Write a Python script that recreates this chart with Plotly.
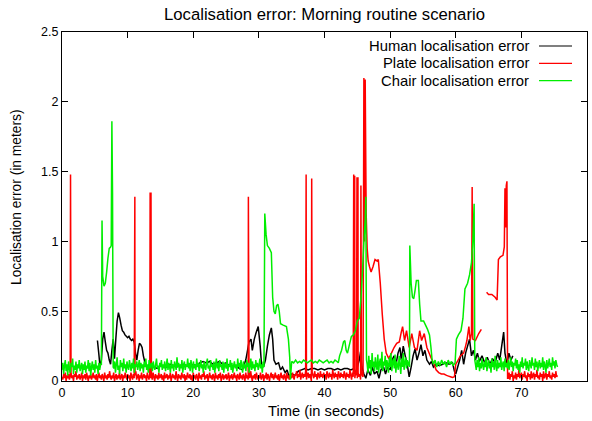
import plotly.graph_objects as go

# ---------------- data ----------------
SAMPLE_DT = 0.125  # sample period of the noisy baseline segments (s)
CM = 0.01          # noisy baseline values are listed in centimetres

# Human localisation error (explicit samples, metres)
human_t = [5.4, 5.6, 5.8, 6.0, 6.2, 6.4, 6.6, 6.8, 7.0, 7.2, 7.4, 7.6, 7.8, 8.0, 8.2, 8.4, 8.6, 8.8, 9.0, 9.2,
           9.4, 9.6, 9.8, 10.0, 10.2, 10.4, 10.6, 10.8, 11.0, 11.2, 11.4, 11.6, 11.8, 12.0, 12.2, 12.4, 12.6, 12.8, 13.0,
           13.5, 14.0, 14.5, 15.0, 15.5, 16.0, 16.5, 17.0, 17.5, 18.0, 18.5, 19.0, 19.5, 20.0, 20.5, 21.0, 21.5,
           22.0, 22.5, 23.0, 23.5, 24.0, 24.5, 25.0, 25.5, 26.0, 26.5, 27.0, 27.5,
           28.0, 28.2, 28.5, 28.8, 29.0, 29.3, 29.6, 29.9, 30.2, 30.4, 30.7, 31.0, 31.3, 31.6, 31.9, 32.1, 32.3, 32.6,
           33.0, 33.3, 33.6, 34.0, 34.3, 34.6, 35.0, 35.5, 36.0, 36.5,
           37.0, 37.5, 38.0, 38.5, 39.0, 39.5, 40.0, 40.5, 41.0, 41.5, 42.0, 42.5, 43.0, 43.5, 44.0, 44.5,
           44.8, 45.0, 45.3, 45.5, 45.7, 46.0, 46.3, 46.6, 47.0, 47.3, 47.6, 48.0, 48.3, 48.6, 49.0, 49.3, 49.6,
           50.0, 50.3, 50.6, 50.9, 51.2, 51.5, 51.7, 52.0, 52.3, 52.6, 52.9, 53.2, 53.5, 53.8, 54.1, 54.4, 54.7,
           55.0, 55.3, 55.6, 56.0, 56.3, 56.6, 57.0, 57.5, 58.0, 58.5, 59.0, 59.5, 59.8, 60.0, 60.3, 60.6, 60.9,
           61.2, 61.5, 61.8, 62.1, 62.4, 62.7, 63.0, 63.3, 63.6, 64.0, 64.4, 64.8, 65.2, 65.6, 66.0, 66.4, 66.7,
           67.0, 67.3, 67.5, 67.8, 68.1, 68.4, 68.7]
human_v = [0.29, 0.20, 0.10, 0.15, 0.30, 0.35, 0.28, 0.22, 0.20, 0.15, 0.12, 0.22, 0.30, 0.16, 0.30, 0.43, 0.49, 0.45, 0.40, 0.36,
           0.35, 0.33, 0.32, 0.31, 0.32, 0.30, 0.29, 0.30, 0.28, 0.20, 0.15, 0.22, 0.27, 0.26, 0.24, 0.18, 0.14, 0.12, 0.10,
           0.11, 0.10, 0.09, 0.11, 0.10, 0.10, 0.12, 0.11, 0.10, 0.11, 0.12, 0.11, 0.10, 0.12, 0.11, 0.13,
           0.14, 0.13, 0.14, 0.12, 0.13, 0.14, 0.12, 0.13, 0.11, 0.10, 0.11, 0.09, 0.08,
           0.15, 0.20, 0.28, 0.30, 0.22, 0.30, 0.35, 0.39, 0.25, 0.12, 0.10, 0.15, 0.25, 0.33, 0.38, 0.30, 0.15, 0.12,
           0.13, 0.08, 0.10, 0.06, 0.08, 0.03, 0.05, 0.04, 0.07, 0.08,
           0.09, 0.08, 0.09, 0.09, 0.08, 0.09, 0.08, 0.09, 0.09, 0.08, 0.09, 0.08, 0.09, 0.09, 0.08, 0.09,
           0.05, 0.10, 0.15, 0.21, 0.10, 0.05, 0.02, 0.08, 0.04, 0.10, 0.05, 0.07, 0.02, 0.08, 0.10, 0.05, 0.10,
           0.08, 0.15, 0.18, 0.12, 0.20, 0.24, 0.15, 0.25, 0.18, 0.12, 0.03, 0.10, 0.18, 0.23, 0.15, 0.20, 0.26,
           0.18, 0.22, 0.15, 0.12, 0.14, 0.10, 0.12, 0.11, 0.12, 0.13, 0.12, 0.13, 0.07, 0.05, 0.10, 0.15, 0.22,
           0.12, 0.20, 0.25, 0.30, 0.18, 0.22, 0.15, 0.20, 0.14, 0.18, 0.13, 0.17, 0.12, 0.16, 0.13, 0.20, 0.15,
           0.25, 0.35, 0.20, 0.12, 0.20, 0.15, 0.18]

# Plate localisation error
plate_noise1_start = 0.0
plate_noise1_cm = [3, 1, 5, 2, 6, 0, 4, 2, 5, 1, 3, 6, 2, 4, 0, 5, 3, 7, 1, 4, 2, 5, 1, 3, 6, 0, 4, 2, 5, 1, 6, 3, 0, 4, 2, 5, 1, 3, 6, 2,
                   4, 1, 5, 0, 3, 6, 2, 4, 1, 5, 3, 0, 6, 2, 4, 1, 5, 2, 7, 3, 1, 4, 2, 6, 0, 3, 5, 1, 4, 2, 6, 1, 3, 5, 0, 4, 2, 6, 3, 1,
                   5, 2, 4, 0, 6, 3, 1, 5, 2, 4, 7, 1, 3, 5, 0, 4, 2, 6, 1, 3, 5, 2, 4, 0, 6, 3, 1, 5, 2, 4, 1, 6, 3, 0, 5, 2, 4, 1, 6, 2,
                   3, 5, 1, 4, 0, 6, 2, 3, 5, 1, 4, 2, 6, 0, 3, 5, 2, 4, 1, 7, 3, 0, 5, 2, 4, 1, 6, 3, 2, 5, 0, 4, 1, 6, 3, 2, 5, 1, 4, 0,
                   6, 2, 4, 1, 5, 3, 0, 6, 2, 4, 1, 5, 3, 7, 1, 4, 2, 5, 0, 3, 6, 2, 4, 1, 5, 3, 0, 6, 2, 4, 1, 5, 2, 6, 0, 3, 5, 1, 4, 2,
                   5, 1, 3, 6, 0, 4, 2, 5, 1, 3, 6, 2, 4, 0, 5, 3, 1, 6, 2, 4, 1, 5, 3, 0, 6, 2, 4, 1, 5, 2, 7, 3, 0, 4, 2, 5, 1, 6, 3, 1,
                   4, 2, 6, 1, 3, 5, 0, 4, 2, 6, 1, 5, 3, 0, 4, 6, 2, 5, 1, 3, 6, 2, 4, 1, 5, 0, 3, 6, 2, 4, 1, 5, 3, 0, 6, 2, 4, 1, 5, 3,
                   2, 6, 3, 1, 5, 4, 7, 2, 5, 3, 8, 1, 4, 6, 2, 5, 3, 7, 1, 4, 6, 2, 5, 3, 0, 6, 4, 2, 7, 3, 5, 1, 6, 4, 2, 7, 3, 5, 2, 6,
                   3, 5, 1, 7, 4, 2, 6, 3, 5, 1, 8, 4, 2, 6, 3, 5, 1, 7, 4, 2, 6, 3, 5, 2, 7, 4, 1, 6, 3, 5, 2, 8, 4, 1, 6, 3, 5, 2, 7, 4,
                   2, 6, 3, 5, 1, 7, 4, 3]
plate_spike_t = [1.3, 11.1, 13.43, 13.56, 28.4, 37.2, 38.05, 44.45, 44.6, 44.95, 45.1, 45.55]
plate_spike_v = [1.48, 1.32, 1.35, 1.35, 1.32, 1.48, 1.45, 1.48, 1.47, 1.46, 1.46, 1.40]
plate_mid_t = [46.0, 46.1, 46.2, 46.35, 46.5, 46.65, 46.85, 47.1, 47.4, 47.7, 48.0, 48.2, 48.5, 48.8, 49.1, 49.4,
               49.8, 50.2, 50.6, 51.0, 51.4, 51.7, 51.9, 52.2, 52.5, 52.9, 53.3, 53.7, 54.1, 54.5, 54.8, 55.2, 55.6,
               56.2, 56.7, 57.0, 57.4, 57.8, 58.2, 58.6, 58.9, 59.2, 59.5, 59.8, 60.0, 60.3, 60.7, 61.2, 61.5, 61.7,
               62.0, 62.2, 62.4, 62.5, 62.6, 63.0, 63.5, 63.9, 64.3, 64.7, 65.0, 65.5, 66.0, 66.3, 66.5, 66.8, 67.2,
               67.4, 67.5, 67.6, 67.7, 67.8, 67.9]
plate_mid_v = [2.17, 1.00, 2.16, 1.20, 0.95, 0.86, 0.82, 0.78, 0.82, 0.87, 0.86, 0.87, 0.70, 0.48, 0.30, 0.20,
               0.16, 0.20, 0.24, 0.27, 0.28, 0.35, 0.39, 0.29, 0.36, 0.24, 0.34, 0.24, 0.22, 0.36, 0.29, 0.34, 0.24,
               0.17, 0.12, 0.08, 0.06, 0.05, 0.05, 0.04, 0.035, 0.03, 0.025, 0.03, 0.12, 0.145, 0.18, 0.20, 0.25, 0.29,
               0.39, 0.29, 0.34, 1.39, 0.30, 0.29, 0.34, 0.37, None, 0.635, 0.62, 0.62, 0.60, 0.58, 0.87, 0.89, 0.90,
               0.96, 1.38, 1.10, 1.40, 1.43, 0.02]
plate_noise2_start = 68.0
plate_noise2_cm = [2, 6, 1, 5, 3, 7, 0, 4, 2, 6, 1, 5, 3, 8, 2, 4, 6, 1, 5, 3, 7, 2, 4, 0, 6, 3, 5, 1, 7, 2,
                   4, 6, 1, 5, 3, 8, 2, 4, 1, 6, 3, 5, 0, 7, 2, 4, 6, 1, 5, 3, 7, 2, 4, 1, 6, 3, 5, 2, 7, 3, 4]

# Chair localisation error
chair_noise1_start = 0.0
chair_noise1_cm = [8, 13, 5, 11, 15, 7, 12, 4, 14, 9, 6, 13, 10, 16, 5, 11, 8, 14, 6, 12, 9, 15, 7, 10,
                   13, 5, 12, 8, 14, 6, 11, 9, 15, 7, 13, 4, 10, 14, 8, 12, 6, 15, 9, 11, 5, 13, 8, 12]
chair_feat1_t = [6.0, 6.1, 6.2, 6.4, 6.6, 6.8, 7.0, 7.2, 7.4, 7.5, 7.6, 7.7, 7.8]
chair_feat1_v = [0.12, 1.15, 0.75, 0.68, 0.70, 0.78, 0.88, 0.95, 0.96, 0.97, 1.86, 1.35, 0.10]
chair_noise2_start = 7.9
chair_noise2_cm = [9, 14, 6, 12, 17, 8, 11, 5, 15, 10, 13, 7, 16, 9, 12, 6, 14, 10, 8, 15, 11, 7, 13, 9, 16, 6, 12, 10, 14, 8,
                   11, 15, 7, 13, 9, 12, 6, 14, 10, 16,
                   8, 12, 6, 15, 9, 11, 13, 7, 14, 10, 8, 12, 16, 9, 11, 6, 13, 10, 15, 8, 12, 9, 14, 7, 11, 16, 8, 13, 10, 6,
                   15, 9, 12, 7, 14, 11, 8, 17, 10, 13,
                   7, 12, 9, 15, 6, 11, 14, 8, 12, 10, 16, 9, 13, 7, 15, 11, 6, 14, 9, 12, 8, 16, 10, 13, 7, 11, 15, 9, 12, 6,
                   14, 10, 8, 13, 16, 9, 11, 7, 15, 10,
                   12, 8, 14, 6, 11, 16, 9, 13, 7, 15, 10, 12, 8, 14, 6, 13, 11, 9, 16, 7, 12, 10, 15, 8, 13, 6, 11, 14, 9, 12,
                   7, 16, 10, 13, 8, 15, 11, 6, 14, 9,
                   12, 7, 15, 10, 13, 6, 11, 16, 8, 14, 9, 12, 7, 15, 10, 13, 8, 11, 16, 9, 12, 6, 14, 10]
chair_feat2_t = [30.9, 31.1, 31.3, 31.6, 31.9, 32.1, 32.3, 32.5, 32.7, 32.9, 33.1, 33.3, 33.7, 34.2, 34.5, 34.7, 34.8,
                 35.0, 35.3, 35.6, 35.9, 36.2, 36.5, 36.8, 37.1, 37.4, 37.7, 38.0, 38.3, 38.6, 38.9, 39.2, 39.5, 39.8,
                 40.1, 40.4, 40.7, 41.0, 41.3, 41.6, 41.9, 42.1, 42.3, 42.6, 42.9, 43.1, 43.3, 43.5, 43.8, 44.1, 44.4,
                 44.7, 45.0, 45.3, 45.6, 45.8, 46.0, 46.2, 46.3, 46.4]
chair_feat2_v = [1.20, 1.05, 0.97, 0.95, 0.92, 0.60, 0.50, 0.48, 0.54, 0.55, 0.50, 0.41, 0.40, 0.39, 0.30, 0.17, 0.01,
                 0.14, 0.13, 0.15, 0.13, 0.14, 0.13, 0.15, 0.14, 0.13, 0.14, 0.15, 0.13, 0.14, 0.13, 0.15, 0.14, 0.13,
                 0.14, 0.15, 0.13, 0.14, 0.13, 0.15, 0.14, 0.13, 0.18, 0.22, 0.28, 0.29, 0.22, 0.20, 0.26, 0.32, 0.33,
                 0.36, 0.43, 0.45, 0.62, 0.80, 1.00, 1.15, 1.32, 0.15]
chair_noise3_start = 46.5
chair_noise3_cm = [12, 6, 18, 9, 15, 5, 20, 10, 14, 7, 17, 11, 8, 19, 6, 13, 16, 9, 21, 7, 14, 11, 18, 8, 15, 12,
                   6, 17, 10, 20, 7, 13, 16, 9, 19, 6, 14, 11, 8, 18, 12, 5, 16, 10, 20, 8, 13, 17, 9, 15, 11, 14]
chair_feat3_t = [52.95, 53.0, 53.2, 53.4, 53.6, 53.8, 54.0, 54.3, 54.5, 54.7, 55.1, 55.4, 55.7, 56.0, 56.2, 56.4,
                 56.6, 56.85, 57.1, 57.35, 57.6, 57.85, 58.1, 58.35, 58.6, 58.85, 59.1, 59.35, 59.6, 59.9,
                 60.1, 60.4, 60.8, 61.1, 61.4, 61.8, 62.1, 62.4, 62.6, 62.8, 62.9]
chair_feat3_v = [0.10, 0.97, 0.70, 0.60, 0.59, 0.65, 0.72, 0.72, 0.55, 0.43, 0.43, 0.40, 0.37, 0.33, 0.25, 0.15,
                 0.12, 0.15, 0.10, 0.14, 0.11, 0.15, 0.12, 0.14, 0.10, 0.15, 0.12, 0.14, 0.11, 0.13,
                 0.30, 0.33, 0.36, 0.45, 0.66, 0.70, 0.76, 0.85, 1.00, 1.27, 0.15]
chair_noise4_start = 63.0
chair_noise4_cm = [12, 8, 15, 10, 17, 7, 13, 9, 16, 11, 8, 14, 10, 17, 7, 12, 15, 9, 13, 6, 16, 10, 14, 8, 18, 11, 7, 15, 9, 13,
                   10, 17, 8, 12, 14, 7, 16, 10, 13, 9,
                   15, 8, 12, 17, 10, 14, 7, 13, 11, 16, 9, 15, 8, 12, 6, 14, 10, 17, 9, 13, 11, 16, 8, 14, 10, 7, 15, 12, 9, 17,
                   11, 13, 8, 16, 10, 14, 7, 12, 15, 9,
                   13, 10, 17, 8, 14, 11, 6, 15, 9, 12, 16, 10, 13, 8, 17, 11, 14, 9, 15, 12, 10]

x_ticks = [0, 10, 20, 30, 40, 50, 60, 70, 80]
y_ticks = [0, 0.5, 1, 1.5, 2, 2.5]
y_tick_labels = ["0", "0.5", "1", "1.5", "2", "2.5"]
series_names = ["Human localisation error", "Plate localisation error", "Chair localisation error"]
series_colors = ["#000000", "#ff0000", "#00ee00"]
title_text = "Localisation error: Morning routine scenario"
x_title = "Time (in seconds)"
y_title = "Localisation error (in meters)"


# ---------------- assemble series ----------------
def sampled(start, values_cm):
    return ([round(start + i * SAMPLE_DT, 4) for i in range(len(values_cm))],
            [v * CM for v in values_cm])


def merge_sorted(t_list, v_list):
    pairs = sorted(zip(t_list, v_list), key=lambda p: p[0])
    return [p[0] for p in pairs], [p[1] for p in pairs]


pt1, pv1 = sampled(plate_noise1_start, plate_noise1_cm)
pt1, pv1 = merge_sorted(pt1 + plate_spike_t, pv1 + plate_spike_v)
pt2, pv2 = sampled(plate_noise2_start, plate_noise2_cm)
plate_t = pt1 + plate_mid_t + pt2
plate_v = pv1 + plate_mid_v + pv2

ct1, cv1 = sampled(chair_noise1_start, chair_noise1_cm)
ct2, cv2 = sampled(chair_noise2_start, chair_noise2_cm)
ct3, cv3 = sampled(chair_noise3_start, chair_noise3_cm)
ct4, cv4 = sampled(chair_noise4_start, chair_noise4_cm)
chair_t = ct1 + chair_feat1_t + ct2 + chair_feat2_t + ct3 + chair_feat3_t + ct4
chair_v = cv1 + chair_feat1_v + cv2 + chair_feat2_v + cv3 + chair_feat3_v + cv4

FONT = "Liberation Sans, Arial, sans-serif"

fig = go.Figure()
for name, xs, ys, col in [
    (series_names[0], human_t, human_v, series_colors[0]),
    (series_names[1], plate_t, plate_v, series_colors[1]),
    (series_names[2], chair_t, chair_v, series_colors[2]),
]:
    fig.add_trace(go.Scatter(x=xs, y=ys, mode="lines", name=name,
                             line=dict(color=col, width=1.5, simplify=False), connectgaps=False,
                             showlegend=False))

# layout geometry (pixels)
L, R, T, B = 62, 5, 32, 40
W, H = 592, 421
pw, ph = W - L - R, H - T - B


def px_x(p):
    return (p - L) / pw


def px_y(p):
    return (H - B - p) / ph


# gnuplot-style key: text right-aligned, line sample to the right
key_rows_px = [46, 63.3, 80.6]
for name, col, ypx in zip(series_names, series_colors, key_rows_px):
    fig.add_annotation(xref="paper", yref="paper", x=px_x(531), y=px_y(ypx),
                       text=name, showarrow=False, xanchor="right", yanchor="middle",
                       font=dict(family=FONT, size=14.8, color="black"))
    fig.add_shape(type="line", xref="paper", yref="paper",
                  x0=px_x(539), x1=px_x(572), y0=px_y(ypx), y1=px_y(ypx),
                  line=dict(color=col, width=1.2))

# title and axis titles
fig.add_annotation(xref="paper", yref="paper", x=px_x(324), y=px_y(14), text=title_text,
                   showarrow=False, xanchor="center", yanchor="middle",
                   font=dict(family=FONT, size=16.7, color="black"))
fig.add_annotation(xref="paper", yref="paper", x=px_x(325.5), y=px_y(411), text=x_title,
                   showarrow=False, xanchor="center", yanchor="middle",
                   font=dict(family=FONT, size=14.7, color="black"))
fig.add_annotation(xref="paper", yref="paper", x=px_x(16.5), y=px_y(197.5), text=y_title,
                   showarrow=False, xanchor="center", yanchor="middle", textangle=-90,
                   font=dict(family=FONT, size=13.8, color="black"))

fig.update_layout(
    width=W, height=H,
    margin=dict(l=L, r=R, t=T, b=B, autoexpand=False),
    paper_bgcolor="white", plot_bgcolor="white",
    font=dict(family=FONT, size=12, color="black"),
    showlegend=False,
)
fig.update_xaxes(range=[0, 80], tickvals=x_ticks, ticks="inside", ticklen=6, tickcolor="black",
                 showline=True, linecolor="black", linewidth=1, mirror="ticks", showgrid=False,
                 zeroline=False, tickfont=dict(size=12.5), automargin=False)
fig.update_yaxes(range=[0, 2.5], tickvals=y_ticks, ticktext=y_tick_labels, ticks="inside", ticklen=6,
                 tickcolor="black", showline=True, linecolor="black", linewidth=1, mirror="ticks",
                 showgrid=False, zeroline=False, tickfont=dict(size=12.5), automargin=False)

fig.write_html("out.html", config={"displayModeBar": False})

# remove the browser's default page margin so the figure fills the window exactly
with open("out.html", "r", encoding="utf-8") as fh:
    page = fh.read()
page = page.replace("<head>", "<head><style>html,body{margin:0;padding:0;overflow:hidden;}</style>", 1)
with open("out.html", "w", encoding="utf-8") as fh:
    fh.write(page)
